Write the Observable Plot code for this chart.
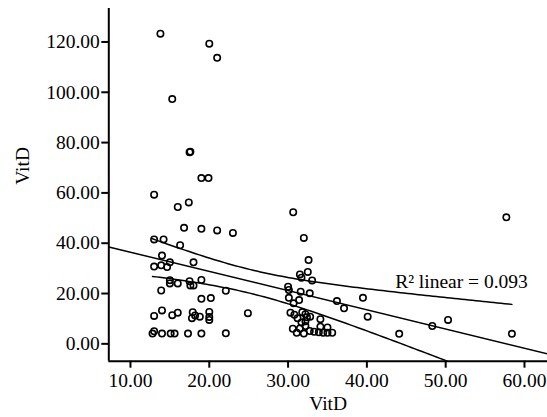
<!DOCTYPE html>
<html><head><meta charset="utf-8">
<script src="https://cdn.jsdelivr.net/npm/d3@7"></script>
<script src="https://cdn.jsdelivr.net/npm/@observablehq/plot@0.6"></script>
<style>body{margin:0;background:#fff} svg{display:block}</style>
</head><body><div id="chart"></div>
<script>
// VitD (x) values
const vitdX = [
  13.8,20.0,21.0,15.3,17.5,17.6,19.0,19.9,13.0,16.0,17.4,16.8,19.0,21.0,23.0,13.0,14.2,16.3,14.0,15.0,
  13.0,13.9,14.65,18.0,15.0,15.0,16.0,17.5,17.6,18.0,19.0,22.1,13.9,19.0,20.2,13.0,14.0,15.3,16.0,17.9,
  18.2,17.8,18.8,20.0,20.0,20.0,24.9,13.0,12.8,14.0,15.1,15.6,17.3,19.0,22.1,
  30.65,32.0,32.6,32.5,31.5,31.7,33.05,30.0,30.1,31.6,32.75,30.1,31.4,30.7,36.2,37.1,39.5,40.1,30.3,30.8,
  31.8,32.2,31.2,32.4,32.8,34.1,31.7,32.2,30.6,31.5,32.2,34.1,35.0,31.1,32.0,32.75,33.3,33.9,34.45,35.0,35.6,
  44.1,48.3,50.3,57.7,58.4
];
// VitD (y) values
const vitdY = [
  123.3,119.3,113.7,97.3,76.2,76.4,65.9,65.9,59.3,54.4,56.2,46.1,45.7,45.1,44.1,41.5,41.5,39.2,35.1,32.4,
  30.7,31.2,30.5,32.4,25.3,24.0,24.0,24.9,23.2,23.2,25.4,21.1,21.2,17.9,18.2,11.1,13.3,11.4,12.4,12.6,
  11.3,10.2,10.8,12.7,10.7,9.5,12.2,5.0,4.1,4.1,4.1,4.1,4.1,4.1,4.2,
  52.3,42.1,33.3,28.6,27.6,26.3,25.2,22.7,21.4,20.7,20.1,18.3,17.4,16.1,17.0,14.1,18.3,10.8,12.4,11.6,
  12.6,11.8,10.2,10.6,10.8,9.8,8.5,9.0,6.0,6.1,7.1,6.8,6.5,4.4,4.1,5.1,4.8,4.6,4.4,4.4,4.4,
  4.0,7.1,9.5,50.3,4.0
];
const xTicks = [10, 20, 30, 40, 50, 60];
const yTicks = [0, 20, 40, 60, 80, 100, 120];
const xDomain = [7.25, 62.92];
const yDomain = [-6.9, 133.3];
const axisTitleX = "VitD";
const axisTitleY = "VitD";
const r2Label = "R\u00B2 linear = 0.093";

const pts = vitdX.map((x, i) => ({x, y: vitdY[i]}));

// OLS fit and 95% CI of the mean
const n = pts.length;
const mx = d3.mean(pts, d => d.x), my = d3.mean(pts, d => d.y);
const sxx = d3.sum(pts, d => (d.x - mx) ** 2);
const sxy = d3.sum(pts, d => (d.x - mx) * (d.y - my));
const b = sxy / sxx, a = my - b * mx;
const sse = d3.sum(pts, d => (d.y - a - b * d.x) ** 2);
const s = Math.sqrt(sse / (n - 2));
const t = 1.984;
const [xmin, xmax] = d3.extent(pts, d => d.x);
const ci = d3.range(0, 101).map(k => {
  const x = xmin + (xmax - xmin) * k / 100;
  const yh = a + b * x;
  const h = t * s * Math.sqrt(1 / n + (x - mx) ** 2 / sxx);
  return {x, lo: yh - h, hi: yh + h};
});
const fit = xDomain.map(x => ({x, y: a + b * x}));

const font = "'Liberation Serif', 'Times New Roman', serif";
const chart = Plot.plot({
  width: 547, height: 417,
  marginLeft: 108.3, marginRight: 0, marginTop: 8, marginBottom: 56.3,
  style: {fontFamily: font, fontSize: "19px", color: "#000", background: "#fff"},
  x: {domain: xDomain},
  y: {domain: yDomain},
  marks: [
    Plot.axisX({ticks: xTicks, tickFormat: d => d.toFixed(2), tickSize: 7, tickPadding: 5, strokeWidth: 2, label: null, fontSize: 19.5}),
    Plot.axisY({ticks: yTicks, tickFormat: d => d.toFixed(2), tickSize: 7, tickPadding: 2, strokeWidth: 2, label: null, fontSize: 19.5}),
    Plot.line(fit, {x: "x", y: "y", stroke: "#000", strokeWidth: 1.5, clip: true}),
    Plot.line(ci, {x: "x", y: "hi", stroke: "#000", strokeWidth: 1.5, clip: true}),
    Plot.line(ci, {x: "x", y: "lo", stroke: "#000", strokeWidth: 1.5, clip: true}),
    Plot.dot(pts, {x: "x", y: "y", r: 3.2, stroke: "#000", strokeWidth: 1.6, fill: "none"}),
    Plot.text([ci[ci.length - 1]], {x: "x", y: "hi", text: () => r2Label, textAnchor: "end", lineAnchor: "bottom", dx: 16, dy: -16, fontSize: 19.5}),
    Plot.ruleX([xDomain[0]], {stroke: "#000", strokeWidth: 2}),
    Plot.ruleY([yDomain[0]], {stroke: "#000", strokeWidth: 2}),
    Plot.text([axisTitleY], {frameAnchor: "left", dx: -86, rotate: -90, fontSize: 19.5}),
    Plot.text([axisTitleX], {frameAnchor: "bottom", dy: 49, lineAnchor: "bottom", fontSize: 19.5})
  ]
});
document.getElementById("chart").append(chart);
</script>
</body></html>
